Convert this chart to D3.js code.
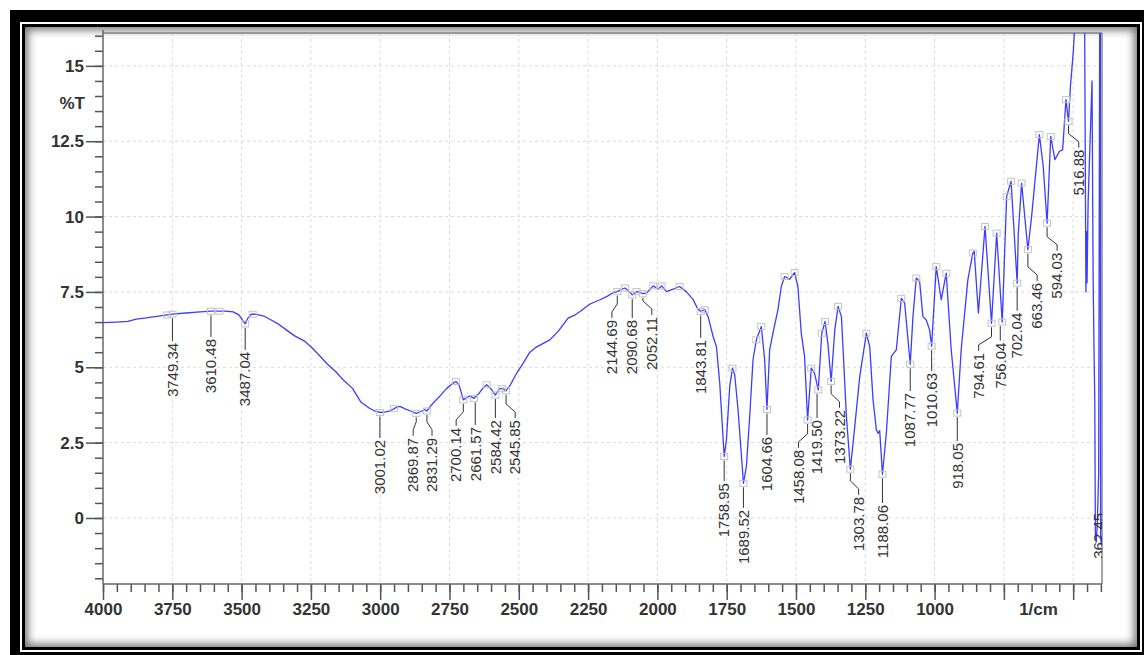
<!DOCTYPE html>
<html>
<head>
<meta charset="utf-8">
<script src="https://cdn.jsdelivr.net/npm/d3@7"></script>
<style>
  body { margin: 0; background: #fff; }
  #page { position: relative; width: 1144px; height: 655px; overflow: hidden; background: #fff; }
  .box { position: absolute; }
  #chart { position: absolute; left: 0; top: 0; }
</style>
</head>
<body>
<div id="page">
  <div class="box" style="left:10px;top:10px;width:1134px;height:645px;background:#000"></div>
  <div class="box" style="left:20px;top:22px;width:1122px;height:630px;background:#fff"></div>
  <div class="box" style="left:22px;top:24px;width:1118px;height:626px;background:#000"></div>
  <div class="box" style="left:25px;top:27px;width:1112px;height:620px;background:#fff;box-shadow:inset 0 0 9px 3px rgba(0,0,0,0.55)"></div>
</div>
<script>
// ---------------------------------------------- data ----------------------------------------------
var wavenumber = [
  4000, 3950, 3910, 3880, 3850, 3800, 3749.34, 3700, 3650, 3610.48,
  3560, 3530, 3510, 3495, 3487.04, 3478, 3465, 3450, 3420, 3400,
  3370, 3340, 3310, 3290, 3270, 3250, 3220, 3190, 3160, 3130,
  3100, 3070, 3040, 3020, 3001.02, 2980, 2965, 2940, 2929, 2910,
  2890, 2869.87, 2850, 2840, 2831.29, 2815, 2800, 2784, 2760, 2740,
  2727, 2715, 2700.14, 2690, 2676, 2661.57, 2645, 2630, 2616, 2600,
  2584.42, 2570, 2560, 2545.85, 2530, 2508, 2484, 2460, 2440, 2410,
  2388, 2358, 2322, 2300, 2279, 2243, 2207, 2180, 2159, 2144.69,
  2130, 2117, 2100, 2090.68, 2075, 2060, 2052.11, 2039, 2015, 1997,
  1985, 1967, 1943, 1920, 1896, 1872, 1855, 1843.81, 1829, 1817,
  1799, 1787, 1775, 1758.95, 1751, 1739, 1729, 1721, 1709, 1689.52,
  1679, 1667, 1655, 1643, 1625, 1613, 1604.66, 1595, 1583, 1565,
  1553, 1541, 1523, 1505, 1493, 1481, 1469, 1458.08, 1445, 1433,
  1419.50, 1407, 1395, 1385, 1373.22, 1360, 1348, 1336, 1318, 1303.78,
  1288, 1270, 1246, 1234, 1222, 1210, 1204, 1198, 1188.06, 1174,
  1156, 1138, 1120, 1108, 1087.77, 1078, 1066, 1054, 1042, 1030,
  1018, 1010.63, 994, 976, 958, 940, 918.05, 904, 880, 862,
  857, 842, 818, 794.61, 776, 756.04, 740, 724, 702.04, 698,
  686, 663.46, 650, 622, 608, 594.03, 581, 566, 550, 538,
  526, 516.88, 510, 499, 493, 485, 460, 454, 452, 450,
  446, 432, 428, 425, 422, 420, 417, 413, 408, 404,
  402, 401, 398, 396
];

var transmittance = [
  6.48, 6.50, 6.52, 6.60, 6.63, 6.70, 6.76, 6.80, 6.84, 6.86,
  6.86, 6.84, 6.74, 6.55, 6.44, 6.62, 6.76, 6.76, 6.70, 6.60,
  6.45, 6.25, 6.05, 5.95, 5.85, 5.68, 5.40, 5.10, 4.85, 4.55,
  4.30, 3.85, 3.65, 3.55, 3.50, 3.52, 3.55, 3.68, 3.70, 3.62,
  3.55, 3.47, 3.55, 3.60, 3.55, 3.75, 3.90, 4.05, 4.30, 4.45,
  4.53, 4.40, 3.92, 3.98, 4.05, 3.97, 4.12, 4.30, 4.42, 4.28,
  4.08, 4.28, 4.30, 4.22, 4.42, 4.80, 5.14, 5.50, 5.65, 5.80,
  5.91, 6.19, 6.63, 6.72, 6.85, 7.10, 7.24, 7.36, 7.48, 7.51,
  7.58, 7.63, 7.50, 7.40, 7.51, 7.48, 7.44, 7.46, 7.70, 7.59,
  7.70, 7.51, 7.59, 7.68, 7.51, 7.26, 6.95, 6.85, 6.91, 6.68,
  6.02, 5.69, 4.47, 2.04, 2.59, 4.36, 4.97, 4.75, 3.59, 1.15,
  1.70, 3.36, 5.25, 5.91, 6.35, 5.25, 3.60, 5.58, 6.13, 6.91,
  7.68, 8.01, 7.92, 8.14, 7.68, 6.13, 5.36, 3.25, 4.97, 4.80,
  4.25, 6.13, 6.52, 5.80, 4.53, 6.24, 7.02, 6.68, 3.36, 1.62,
  3.03, 4.69, 6.13, 5.69, 3.92, 2.92, 2.81, 2.90, 1.45, 2.81,
  5.36, 5.58, 7.29, 7.13, 5.10, 6.68, 7.96, 7.85, 6.68, 6.57,
  6.24, 5.70, 8.34, 7.24, 8.12, 5.58, 3.48, 5.58, 7.90, 8.79,
  8.85, 6.80, 9.67, 6.46, 9.45, 6.50, 10.67, 11.17, 7.79, 9.45,
  11.11, 8.90, 10.0, 12.72, 11.66, 9.78, 12.66, 11.89, 12.16, 12.22,
  13.88, 13.16, 14.3, 15.54, 16.6, 19, 19, 7.5, 9.5, 7.8,
  10.5, 14.5, 8, 5.7, 3.9, -0.5, -0.8, -0.2, 1.5, 18,
  18, -0.6, -0.9, -0.6
];

// labelled peaks (wavenumber printed under each)
var peakWn = [3749.34, 3610.48, 3487.04, 3001.02, 2869.87, 2831.29, 2700.14, 2661.57, 2584.42, 2545.85,
  2144.69, 2090.68, 2052.11, 1843.81, 1758.95, 1689.52, 1604.66, 1458.08, 1419.50, 1373.22,
  1303.78, 1188.06, 1087.77, 1010.63, 918.05, 794.61, 756.04, 702.04, 663.46, 594.03, 516.88, 362.45];

// other detected points that only get a box
var boxWn = [3770, 3580, 3460, 2950, 2727, 2616, 2560, 2117, 2075, 2015, 1985, 1920, 1829, 1729, 1643, 1625,
  1541, 1505, 1445, 1407, 1395, 1348, 1246, 1120, 1066, 994, 958, 862, 818, 776, 740, 724, 686, 622, 581, 526];

var xMajor = [4000, 3750, 3500, 3250, 3000, 2750, 2500, 2250, 2000, 1750, 1500, 1250, 1000, 750, 500];
var yMajor = [0, 2.5, 5, 7.5, 10, 12.5, 15];

// where each label text sits: [wavenumber, %T of the text top]  (layout only)
var labelPos = [
  [3749.34, 5.81], [3610.48, 5.94], [3487.04, 5.51], [3001.02, 2.59], [2881, 2.66], [2813, 2.66],
  [2726, 2.99], [2657, 3.02], [2584.42, 3.25], [2513, 3.25], [2164, 6.57], [2090.68, 6.57],
  [2020, 6.67], [1843.81, 5.91], [1758.95, 1.16], [1689.52, 0.27], [1604.66, 2.69], [1491, 2.26],
  [1424, 3.25], [1343, 3.59], [1274, 0.70], [1188.06, 0.43], [1087.77, 4.15], [1010.63, 4.81],
  [918.05, 2.49], [841, 5.48], [763, 5.82], [702.04, 6.81], [630, 7.80], [558, 8.80], [480, 12.22], [409, 0.17]
];

(function() {
// ------------------------------------------------ chart -------------------------------------------------
var width = 1144, height = 655;
var plotL = 103, plotR = 1102, plotT = 33, plotB = 584;

var x = d3.scaleLinear().domain([4000, 396]).range([plotL, plotR]);
var y = d3.scaleLinear().domain([-2.19, 16.09]).range([plotB, plotT]);

var spectrum = d3.zip(wavenumber, transmittance);

// value of the trace at a wavenumber (linear between read points)
var valueAt = function(w) {
  for (var i = 0; i < spectrum.length - 1; i++) {
    var a = spectrum[i], b = spectrum[i + 1];
    if (w <= a[0] && w >= b[0]) {
      return a[1] + (b[1] - a[1]) * (a[0] - w) / (a[0] - b[0]);
    }
  }
  return null;
};

var svg = d3.select("#page").append("svg")
  .attr("id", "chart")
  .attr("width", width)
  .attr("height", height)
  .style("font-family", "'Liberation Sans', Arial, sans-serif");

svg.append("clipPath").attr("id", "plotclip")
  .append("rect")
  .attr("x", plotL).attr("y", plotT)
  .attr("width", plotR - plotL).attr("height", plotB - plotT);

// grid
svg.append("g").selectAll("line")
  .data(xMajor.filter(function(d) { return d != 4000; }))
  .join("line")
  .attr("x1", function(d) { return x(d); })
  .attr("x2", function(d) { return x(d); })
  .attr("y1", plotT).attr("y2", plotB)
  .attr("stroke", "#dadada").attr("stroke-dasharray", "3,3");

svg.append("g").selectAll("line")
  .data(yMajor)
  .join("line")
  .attr("x1", plotL).attr("x2", plotR)
  .attr("y1", function(d) { return y(d); })
  .attr("y2", function(d) { return y(d); })
  .attr("stroke", "#dadada").attr("stroke-dasharray", "3,3");

// plot frame (top + right)
svg.append("line").attr("x1", plotL).attr("x2", plotR).attr("y1", plotT).attr("y2", plotT)
  .attr("stroke", "#999").attr("stroke-width", 2);
svg.append("line").attr("x1", plotR).attr("x2", plotR).attr("y1", plotT).attr("y2", plotB)
  .attr("stroke", "#888").attr("stroke-width", 1.5);

// ---------------------------------------------- axes ----------------------------------------------
var xMinor = d3.range(4000, 395, -50);
var yMinor = d3.range(-2, 16.01, 0.5);

svg.append("g")
  .attr("transform", "translate(0," + plotB + ")")
  .call(d3.axisBottom(x).tickValues(xMinor).tickSize(8).tickSizeOuter(0).tickFormat(""))
  .call(function(g) { g.select(".domain").remove(); });

var xAxis = svg.append("g")
  .attr("transform", "translate(0," + plotB + ")")
  .call(d3.axisBottom(x).tickValues(xMajor).tickSize(16).tickSizeOuter(0).tickPadding(3)
    .tickFormat(function(d) { return d >= 1000 ? d : ""; }));
xAxis.select(".domain").remove();

svg.append("g")
  .attr("transform", "translate(" + plotL + ",0)")
  .call(d3.axisLeft(y).tickValues(yMinor).tickSize(8).tickSizeOuter(0).tickFormat(""))
  .call(function(g) { g.select(".domain").remove(); });

var yAxis = svg.append("g")
  .attr("transform", "translate(" + plotL + ",0)")
  .call(d3.axisLeft(y).tickValues(yMajor).tickSize(17).tickSizeOuter(0).tickPadding(2)
    .tickFormat(function(d) { return d; }));
yAxis.select(".domain").remove();

svg.selectAll(".tick line").attr("stroke", "#555").attr("stroke-width", 1.5);
svg.selectAll(".tick text").attr("fill", "#333").style("font-size", "17px").style("font-weight", "bold");

svg.append("line").attr("x1", plotL).attr("x2", plotR).attr("y1", plotB).attr("y2", plotB)
  .attr("stroke", "#666").attr("stroke-width", 1.5);
svg.append("line").attr("x1", plotL).attr("x2", plotL).attr("y1", plotT - 3).attr("y2", plotB)
  .attr("stroke", "#666").attr("stroke-width", 1.5);

svg.append("text")
  .attr("x", plotL - 18).attr("y", y(13.75)).attr("dy", "0.35em")
  .attr("text-anchor", "end").attr("fill", "#333")
  .style("font-size", "17px").style("font-weight", "bold")
  .text("%T");

svg.append("text")
  .attr("x", x(625)).attr("y", plotB + 19).attr("dy", "0.71em")
  .attr("text-anchor", "middle").attr("fill", "#333")
  .style("font-size", "17px").style("font-weight", "bold")
  .text("1/cm");

// ---------------------------------------------- trace ----------------------------------------------
var plot = svg.append("g").attr("clip-path", "url(#plotclip)");

var line = d3.line()
  .x(function(d) { return x(d[0]); })
  .y(function(d) { return y(d[1]); });

plot.append("path")
  .datum(spectrum)
  .attr("d", line)
  .attr("fill", "none")
  .attr("stroke", "#3d3dff")
  .attr("stroke-width", 1.3)
  .attr("stroke-linejoin", "round");

// boxes on detected points
var boxes = boxWn.concat(peakWn).filter(function(w) { return valueAt(w) != null; });
plot.append("g").selectAll("rect")
  .data(boxes)
  .join("rect")
  .attr("x", function(d) { return x(d) - 3.5; })
  .attr("y", function(d) { return y(valueAt(d)) - 3; })
  .attr("width", 7).attr("height", 6)
  .attr("fill", "none")
  .attr("stroke", "#c4c4c4");

// ---------------------------------------------- peak labels ----------------------------------------------
var labels = plot.append("g");

peakWn.forEach(function(w, i) {
  var tx = x(labelPos[i][0]);
  var ty = y(labelPos[i][1]);
  var v = valueAt(w);

  if (v != null) {
    var mx = x(w), my = y(v) + 4;
    var pts;
    if (Math.abs(mx - tx) < 2) {
      pts = [[tx, my], [tx, ty - 2]];
    } else {
      pts = [[mx, my], [mx, ty - 16], [tx, ty - 8], [tx, ty - 2]];
    }
    labels.append("path")
      .attr("d", d3.line()(pts))
      .attr("fill", "none")
      .attr("stroke", "#333")
      .attr("stroke-width", 1);
  }

  labels.append("text")
    .attr("transform", "translate(" + tx + "," + ty + ") rotate(-90)")
    .attr("text-anchor", "end")
    .attr("dy", "0.35em")
    .attr("fill", "#333")
    .style("font-size", "15px")
    .text(w.toFixed(2));
});
})();
</script>
</body>
</html>
